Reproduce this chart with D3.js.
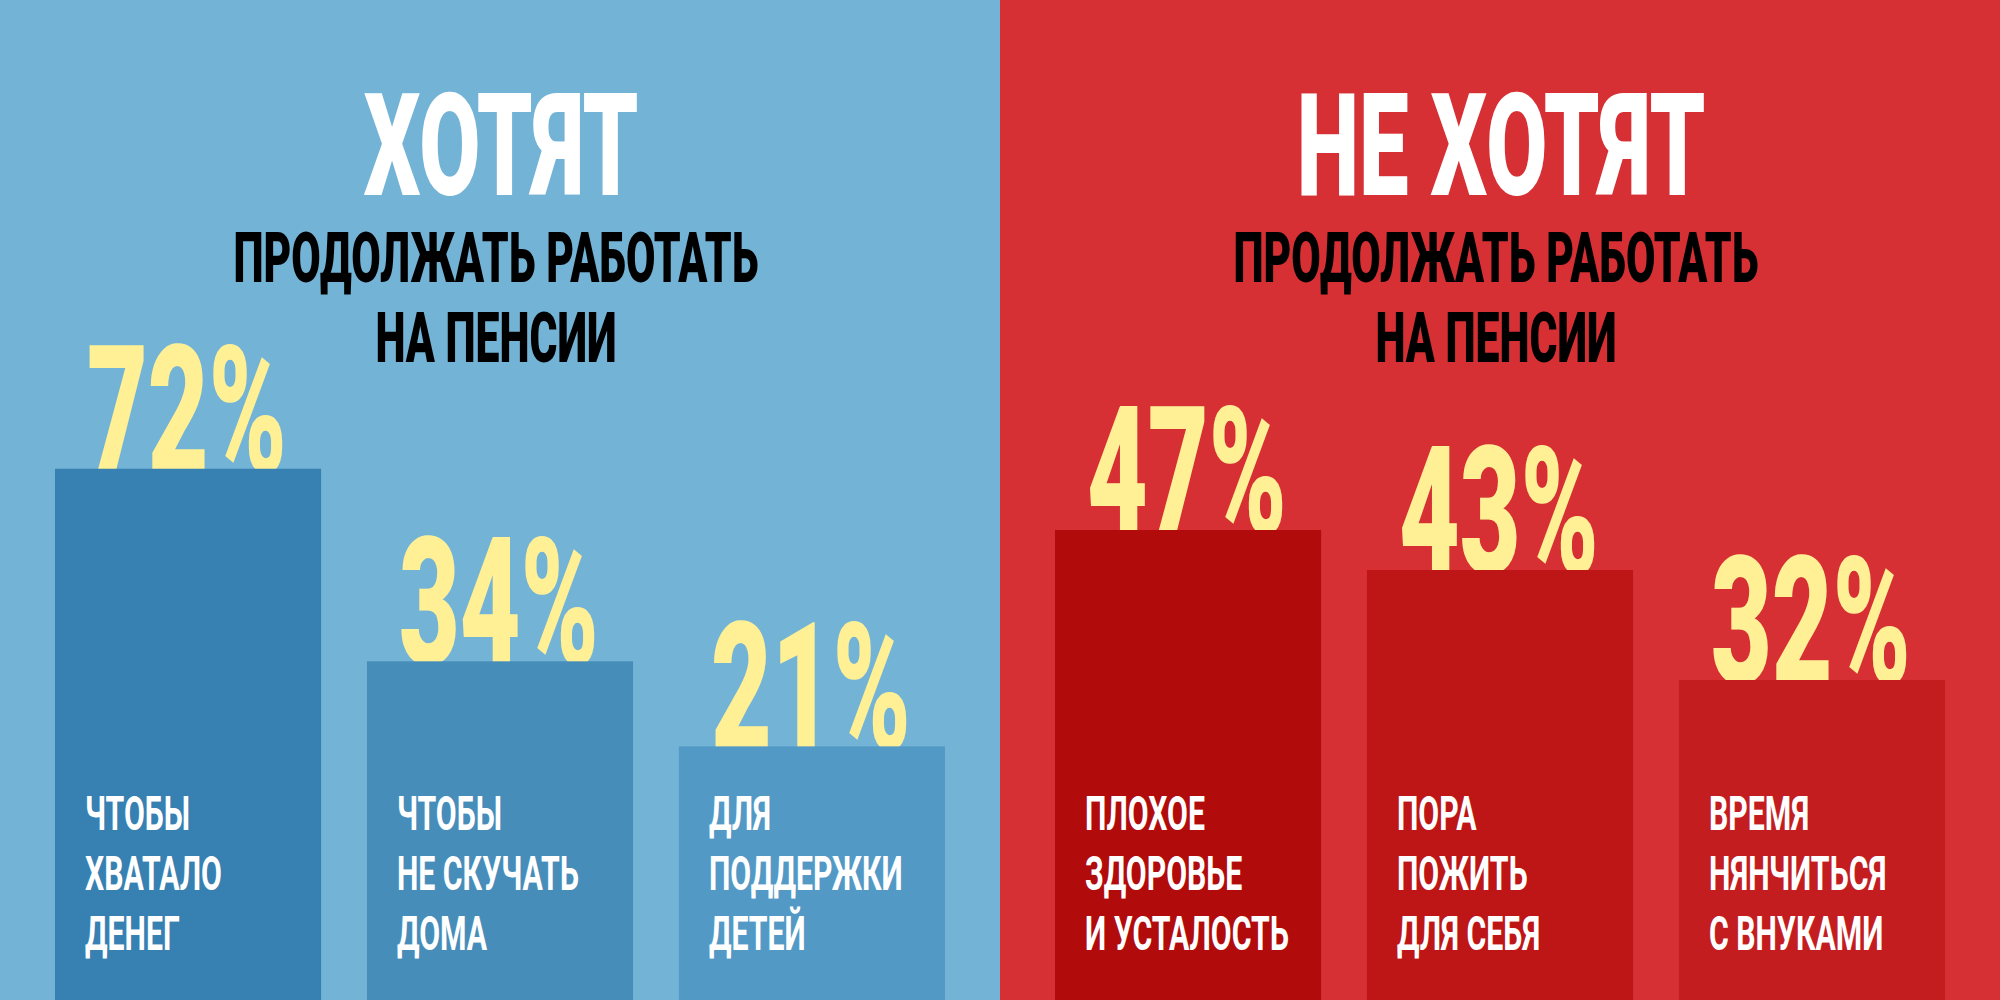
<html>
<head>
<meta charset="utf-8">
<script src="https://d3js.org/d3.v7.min.js"></script>
<style>
  body { margin: 0; background: #fff; }
  text { font-family: Roboto, "Noto Sans", sans-serif; }
</style>
</head>
<body>
<div id="chart"></div>
<script>
// two panels: want / don't want to keep working on pension
var titles = ["ХОТЯТ", "НЕ ХОТЯТ"];
var subtitle = ["ПРОДОЛЖАТЬ РАБОТАТЬ", "НА ПЕНСИИ"];

var wantValues = [72, 34, 21];
var wantLabels = [["ЧТОБЫ", "ХВАТАЛО", "ДЕНЕГ"],
                  ["ЧТОБЫ", "НЕ СКУЧАТЬ", "ДОМА"],
                  ["ДЛЯ", "ПОДДЕРЖКИ", "ДЕТЕЙ"]];

var notValues = [47, 43, 32];
var notLabels = [["ПЛОХОЕ", "ЗДОРОВЬЕ", "И УСТАЛОСТЬ"],
                 ["ПОРА", "ПОЖИТЬ", "ДЛЯ СЕБЯ"],
                 ["ВРЕМЯ", "НЯНЧИТЬСЯ", "С ВНУКАМИ"]];

var bgColors = ["#73b3d5", "#d63034"];
var wantColors = ["#3780b2", "#468dba", "#5399c5"];
var notColors = ["#b20b0b", "#be1516", "#c41d1f"];

var W = 2000, H = 1000, panelW = 1000;

var svg = d3.select("#chart").append("svg")
    .attr("width", W).attr("height", H);

// left panel bars are not drawn to a linear scale in the original, right ones are
var yWant = d3.scalePow().exponent(0.6).domain([0, 100]).range([H, 353]);
var yNot = d3.scaleLinear().domain([0, 100]).range([H, 0]);

var panels = [
  {title: titles[0], values: wantValues, labels: wantLabels, colors: wantColors, y: yWant},
  {title: titles[1], values: notValues, labels: notLabels, colors: notColors, y: yNot}
];

// squeeze text horizontally to get the condensed look
function squeezed(g, txt, x, y, sx, anchor) {
  return g.append("text")
    .attr("transform", "translate(" + x + "," + y + ") scale(" + sx + ",1)")
    .attr("text-anchor", anchor)
    .text(txt);
}

panels.forEach(function(p, i) {
  var g = svg.append("g").attr("transform", "translate(" + (i * panelW) + ",0)");

  g.append("rect")
    .attr("width", panelW).attr("height", H)
    .attr("fill", bgColors[i]);

  squeezed(g, p.title, 501, 195, 0.62, "middle")
    .attr("font-size", 143).attr("font-weight", 900).attr("fill", "#fff");

  subtitle.forEach(function(s, k) {
    squeezed(g, s, 496, 282 + k * 80, 0.61, "middle")
      .attr("font-size", 70).attr("font-weight", 900).attr("fill", "#000");
  });

  var x = d3.scaleBand()
    .domain(d3.range(p.values.length))
    .range([55, 945])
    .paddingInner(0.147)
    .paddingOuter(0);

  // percentage numbers sit behind the bars, bottoms hidden
  p.values.forEach(function(v, j) {
    squeezed(g, v + "%", x(j) + 32, p.y(v) + 3, 0.59, "start")
      .attr("font-size", 178).attr("font-weight", 900).attr("fill", "#fff096");
  });

  g.selectAll("rect.bar")
    .data(p.values)
    .enter().append("rect")
    .attr("class", "bar")
    .attr("x", function(d, j) { return x(j); })
    .attr("y", function(d) { return p.y(d); })
    .attr("width", x.bandwidth())
    .attr("height", function(d) { return H - p.y(d); })
    .attr("fill", function(d, j) { return p.colors[j]; });

  p.labels.forEach(function(lines, j) {
    lines.forEach(function(line, k) {
      squeezed(g, line, x(j) + 30, 830 + k * 60, 0.63, "start")
        .attr("font-size", 48).attr("font-weight", 700).attr("fill", "#fff");
    });
  });
});
</script>
</body>
</html>
